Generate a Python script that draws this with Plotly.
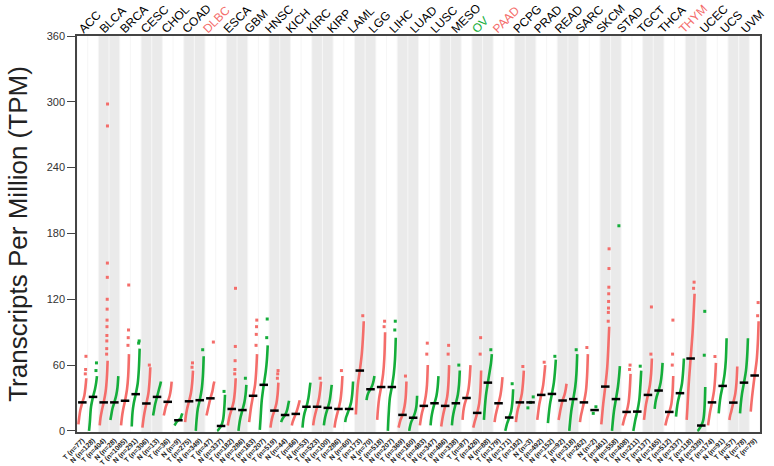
import plotly.graph_objects as go

# ---------------- data ----------------
cancers = ["ACC", "BLCA", "BRCA", "CESC", "CHOL", "COAD", "DLBC", "ESCA", "GBM", "HNSC",
           "KICH", "KIRC", "KIRP", "LAML", "LGG", "LIHC", "LUAD", "LUSC", "MESO", "OV",
           "PAAD", "PCPG", "PRAD", "READ", "SARC", "SKCM", "STAD", "TGCT", "THCA", "THYM",
           "UCEC", "UCS", "UVM"]
tumor_n = [77, 404, 1085, 306, 36, 275, 47, 182, 163, 519, 66, 523, 286, 173, 518, 369, 483,
           486, 87, 426, 179, 182, 492, 92, 262, 461, 408, 137, 512, 118, 174, 57, 79]
normal_n = [128, 28, 291, 13, 9, 349, 337, 286, 207, 44, 53, 100, 60, 70, 207, 160, 347,
            338, None, 88, 171, 3, 152, 318, 2, 558, 211, 165, 337, 339, 91, 78, None]
red_labels = ["DLBC", "PAAD", "THYM"]
green_labels = ["OV"]

# sorted expression profile per column: min, p10, p25, median, p75, p90, upper (TPM)
curves = [
    [6, 12, 19, 26, 32, 40, 48],        # ACC T
    [0, 8, 22, 31, 38, 44, 50],         # ACC N
    [5, 12, 18, 26, 36, 48, 64],        # BLCA T
    [10, 14, 20, 26, 33, 40, 50],       # BLCA N
    [5, 12, 19, 27.5, 38, 50, 70],      # BRCA T
    [4, 17, 25, 33.5, 43, 56, 75],      # BRCA N
    [3, 9, 16, 25, 34, 45, 58],         # CESC T
    [14, 18, 24, 31, 38, 42, 45],       # CESC N
    [14, 17, 22, 26.5, 32, 38, 45],     # CHOL T
    [5, 6, 8, 9.7, 11, 14, 16],         # CHOL N
    [8, 14, 20, 27, 35, 44, 55],        # COAD T
    [0, 10, 20, 28, 38, 50, 68],        # COAD N
    [14, 17, 22, 29.7, 36, 42, 45],     # DLBC T
    [0, 0.5, 2, 4.5, 10, 20, 33],       # DLBC N
    [5, 9, 14, 20, 27, 36, 48],         # ESCA T
    [0, 6, 12, 19, 26, 33, 42],         # ESCA N
    [8, 14, 22, 32, 42, 55, 70],        # GBM T
    [1, 12, 28, 42, 54, 65, 78],        # GBM N
    [3, 8, 13, 18.5, 25, 33, 44],       # HNSC T
    [8, 10, 12, 14.5, 19, 24, 27.5],    # HNSC N
    [5, 8, 11, 15.5, 21, 25, 28],       # KICH T
    [3, 10, 16, 22, 30, 38, 44],        # KICH N
    [5, 10, 15, 22, 30, 38, 45],        # KIRC T
    [5, 10, 15, 21, 28, 36, 42],        # KIRC N
    [3, 8, 13, 20, 28, 38, 50],         # KIRP T
    [8, 12, 15, 20, 26, 34, 45],        # KIRP N
    [15, 28, 42, 55, 70, 85, 100],      # LAML T
    [28, 32, 35, 38, 42, 46, 50],       # LAML N
    [10, 20, 30, 40, 52, 66, 90],       # LGG T
    [0, 15, 30, 40, 52, 65, 85],        # LGG N
    [3, 6, 10, 14.6, 22, 30, 45],       # LIHC T
    [0, 4, 8, 12, 17, 22, 32],          # LIHC N
    [5, 10, 16, 22.8, 32, 42, 60],      # LUAD T
    [5, 12, 18, 25.2, 32, 40, 50],      # LUAD N
    [4, 9, 15, 22.8, 31, 42, 60],       # LUSC T
    [5, 12, 18, 25.2, 33, 42, 55],      # LUSC N
    [10, 18, 24, 30, 38, 48, 60],       # MESO T
    [3, 6, 10, 16.4, 25, 36, 55],       # OV T
    [10, 20, 32, 44, 55, 62, 70],       # OV N
    [8, 13, 18, 25.2, 33, 41, 49],      # PAAD T
    [0, 3, 7, 12.2, 18, 26, 38],        # PAAD N
    [8, 14, 20, 26, 34, 44, 55],        # PCPG T
    [21, 26, 31],                       # PCPG N (n=3)
    [10, 16, 24, 32.8, 42, 52, 60],     # PRAD T
    [7, 15, 24, 33.7, 44, 55, 65],      # PRAD N
    [10, 14, 20, 27.7, 33, 38, 43],     # READ T
    [0, 8, 18, 29, 40, 52, 70],         # READ N
    [8, 13, 18, 26, 36, 50, 70],        # SARC T
    [16, 22],                           # SARC N (n=2)
    [6, 14, 25, 40.4, 58, 78, 95],      # SKCM T
    [0, 8, 18, 29, 40, 50, 59],         # SKCM N
    [5, 8, 12, 17.3, 26, 38, 52],       # STAD T
    [0, 4, 10, 17.6, 28, 42, 55],       # STAD N
    [10, 16, 24, 32.8, 42, 52, 66],     # TGCT T
    [20, 26, 31, 36.8, 44, 52, 62],     # TGCT N
    [5, 8, 12, 17.3, 24, 34, 50],       # THCA T
    [13, 20, 27, 34.4, 43, 54, 66],     # THCA N
    [10, 22, 42, 66, 90, 110, 125],     # THYM T
    [0, 0.5, 2, 4.9, 10, 20, 40],       # THYM N
    [5, 10, 17, 26, 36, 48, 62],        # UCEC T
    [16, 24, 32, 41, 52, 64, 84.5],     # UCEC N
    [10, 14, 18, 25.8, 34, 44, 58.7],   # UCS T
    [16, 25, 34, 44, 55, 68, 84.5],     # UCS N
    [17.6, 26, 36, 50.5, 64, 80, 100],  # UVM T
]
outliers = [
    [52, 56, 68], [55, 62],
    [70, 75, 82, 87, 95, 101, 111, 120, 140, 153, 278, 298], [],
    [78, 85, 92, 133], [80, 82],
    [60], [],
    [], [],
    [58, 62], [74],
    [81], [36],
    [52, 56, 64, 77, 130], [48],
    [78, 88, 95, 101], [85, 102],
    [48, 52, 55], [],
    [], [],
    [48], [],
    [55], [],
    [105], [],
    [95, 100], [92, 100],
    [50], [],
    [70, 80], [],
    [70, 78], [60],
    [],
    [70, 85], [74],
    [], [43],
    [58.7], [],
    [62.6], [68],
    [], [74],
    [76], [],
    [100, 108, 112, 118, 125, 131, 148, 166], [187],
    [56, 60], [59],
    [70, 113], [],
    [60, 70, 101], [],
    [130, 135.6], [69, 109],
    [67.8], [],
    [], [],
    [105, 117],
]
medians = [26, 31, 26, 26, 27.5, 33.5, 25, 31, 26.5, 9.7, 27, 28, 29.7, 4.5, 20, 19,
           32, 42, 18.5, 14.5, 15.5, 22, 22, 21, 20, 20, 55, 38, 40, 40, 14.6, 12,
           22.8, 25.2, 22.8, 25.2, 30, 16.4, 44, 25.2, 12.2, 26, 26, 32.8, 33.7, 27.7,
           29, 26, 19, 40.4, 29, 17.3, 17.6, 32.8, 36.8, 17.3, 34.4, 66, 4.9, 26, 41,
           25.8, 44, 50.5]
y_ticks = [0, 60, 120, 180, 240, 300, 360]

# ---------------- structure ----------------
col_labels, col_type, col_group = [], [], []
for gi, (c, tn, nn) in enumerate(zip(cancers, tumor_n, normal_n)):
    col_labels.append(f"T (n={tn})"); col_type.append("T"); col_group.append(gi)
    if nn is not None:
        col_labels.append(f"N (n={nn})"); col_type.append("N"); col_group.append(gi)
ncol = len(col_labels)
ngroup = len(cancers)

RED = "#F46D6A"
GREEN = "#14AD3A"
top_text = []
for c in cancers:
    if c in red_labels:
        top_text.append(f'<span style="color:{RED}">{c}</span>')
    elif c in green_labels:
        top_text.append(f'<span style="color:{GREEN}">{c}</span>')
    else:
        top_text.append(c)

fracs7 = [0, 0.1, 0.25, 0.5, 0.75, 0.9, 1.0]
half = 0.37

fig = go.Figure()

# background bands
shapes = []
for i in range(ncol):
    grey = col_group[i] % 2 == 1
    shapes.append(dict(type="rect", xref="x", yref="paper", x0=i - 0.5 + 0.05, x1=i + 0.5 - 0.05,
                       y0=0, y1=1, fillcolor="#EAEAEA" if grey else "#FFFFFF",
                       line=dict(width=0), layer="below"))

for kind, color in (("T", RED), ("N", GREEN)):
    lx, ly, mx, my = [], [], [], []
    for i in range(ncol):
        if col_type[i] != kind:
            continue
        vals = curves[i]
        if len(vals) == 7:
            for f, v in zip(fracs7, vals):
                lx.append(i + (f - 0.5) * 2 * half)
                ly.append(v)
            lx.append(None); ly.append(None)
        else:
            for k, v in enumerate(vals):
                mx.append(i + (k - (len(vals) - 1) / 2) * 0.25)
                my.append(v)
        outs = sorted(outliers[i])
        for k, v in enumerate(outs):
            mx.append(i + half * (0.75 + 0.25 * k / max(len(outs), 1)))
            my.append(v)
    fig.add_trace(go.Scatter(x=lx, y=ly, mode="lines", line=dict(color=color, width=2.6, shape="spline"),
                             connectgaps=False, hoverinfo="skip"))
    fig.add_trace(go.Scatter(x=mx, y=my, mode="markers",
                             marker=dict(color=color, size=3, symbol="square"), hoverinfo="skip"))

# median bars
bx, by = [], []
for i in range(ncol):
    bx += [i - 0.4, i + 0.4, None]
    by += [medians[i], medians[i], None]
fig.add_trace(go.Scatter(x=bx, y=by, mode="lines", line=dict(color="black", width=2.5), hoverinfo="skip"))

# invisible trace for top (cancer name) axis: names evenly spaced across the panel
fig.add_trace(go.Scatter(x=[0.5], y=[0], xaxis="x2", mode="markers",
                         marker=dict(opacity=0), hoverinfo="skip"))

fig.update_layout(
    width=774, height=466,
    margin=dict(l=77, r=14, t=36, b=34),
    paper_bgcolor="white", plot_bgcolor="#F6F6F6",
    showlegend=False, shapes=shapes,
    font=dict(family="Arial, Liberation Sans, sans-serif"),
    xaxis=dict(range=[-0.5, ncol - 0.5], tickmode="array", tickvals=list(range(ncol)),
               ticktext=col_labels, tickangle=-45, ticklabeloverflow="allow",
               tickfont=dict(family="Arial", size=7, color="#222", weight="bold"),
               showgrid=False, zeroline=False, showline=True, linecolor="#444", linewidth=1.5,
               mirror=True, ticks="", automargin=False),
    xaxis2=dict(overlaying="x", side="top", range=[0, ngroup], tickmode="array",
                tickvals=[g + 0.12 for g in range(ngroup)], ticktext=top_text, tickangle=-45,
                ticklabeloverflow="allow", ticklabelstandoff=-3,
                tickfont=dict(family="Arial", size=12, color="black"),
                showgrid=False, zeroline=False, showline=False, ticks="", automargin=False),
    yaxis=dict(range=[-1, 360], tickmode="array", tickvals=y_ticks,
               ticks="outside", ticklen=8, tickcolor="#444", tickwidth=1,
               tickfont=dict(family="Arial", size=11, color="#333"),
               showline=True, linecolor="#444", linewidth=1.5, mirror=True,
               showgrid=False, zeroline=False, automargin=False,
               title=dict(text="Transcripts Per Million (TPM)",
                          font=dict(family="Arial", size=26, color="#222"), standoff=12)),
)

fig.write_html("out.html")
